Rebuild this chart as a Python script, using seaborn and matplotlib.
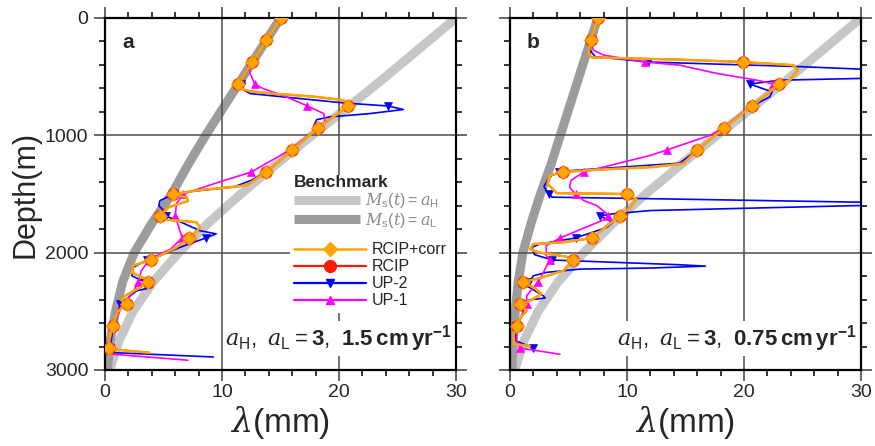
import numpy as np
import matplotlib
matplotlib.use("Agg")
import matplotlib.pyplot as plt
from matplotlib.lines import Line2D
from matplotlib.patches import Rectangle
from matplotlib.ticker import MultipleLocator
import seaborn as sns

sns.set_style("ticks")
plt.rcParams.update({
    "font.family": ["Liberation Sans", "DejaVu Sans"],
    "mathtext.fontset": "custom",
    "mathtext.rm": "Liberation Sans",
    "mathtext.sf": "Liberation Sans",
    "mathtext.it": "DejaVu Serif:italic",
    "mathtext.bf": "Liberation Sans:bold",
})

# ---------------------------------------------------------------- data
# depths (m) at which the model nodes carry markers
node_depth = [0, 187.5, 375, 562.5, 750, 937.5, 1125, 1312.5, 1500,
              1687.5, 1875, 2062.5, 2250, 2437.5, 2625, 2812.5]

# benchmark profiles, lambda (mm) against depth (m)
bench_depth = [0, 250, 500, 750, 1000, 1250, 1500, 1750, 2000, 2250, 2500, 2750, 3000]
bench_high = [30.0, 27.0, 24.0, 20.9, 17.7, 14.6, 11.6, 8.8, 6.3, 4.1, 2.4, 1.2, 0.4]
bench_low_a = [15.0, 13.4, 11.8, 10.2, 8.6, 7.1, 5.7, 4.0, 2.5, 1.5, 0.9, 0.45, 0.2]
bench_low_b = [7.5, 6.7, 5.9, 5.1, 4.3, 3.5, 2.6, 1.8, 1.1, 0.7, 0.45, 0.25, 0.15]

# panel a: 1.5 cm/yr
rcipc_a_depth = [0, 187.5, 375, 562.5, 600, 625, 645, 670, 695, 720, 750, 937.5, 1125,
                 1312.5, 1427, 1470, 1493, 1500, 1530, 1560, 1610, 1670, 1687.5, 1720,
                 1740, 1782, 1825, 1875, 1955, 2045, 2062.5, 2110, 2170, 2215, 2250,
                 2296, 2368, 2405, 2437.5, 2500, 2625, 2720, 2812.5, 2830, 2852]
rcipc_a_lam = [15.0, 13.8, 12.6, 11.4, 11.6, 12.4, 14.5, 17.8, 20.0, 20.9, 20.8, 18.2, 16.0,
               13.8, 12.1, 7.8, 6.4, 5.8, 7.0, 7.1, 5.5, 4.8, 4.7, 5.3,
               7.8, 8.1, 7.8, 7.2, 6.1, 4.3, 3.9, 2.4, 2.3, 3.3, 3.7,
               3.0, 1.7, 1.4, 1.9, 1.1, 0.65, 0.4, 0.3, 1.3, 3.8]
rcip_a_depth = list(rcipc_a_depth)
rcip_a_lam = list(rcipc_a_lam)

up2_a_depth = [0, 187.5, 375, 540, 556, 562.5, 600, 644, 724, 750, 780, 815, 843, 866, 906,
               937.5, 1125, 1312.5, 1380, 1440, 1480, 1500, 1556, 1600, 1669, 1687.5, 1740,
               1812, 1840, 1875, 1955, 2026, 2062.5, 2126, 2197, 2250, 2268, 2296, 2325,
               2437.5, 2553, 2625, 2812.5, 2852, 2889]
up2_a_lam = [15.0, 13.8, 12.6, 11.6, 12.0, 11.6, 11.6, 12.4, 20.4, 24.2, 25.5, 22.6, 19.2, 18.1, 17.9,
             18.2, 16.0, 13.8, 12.6, 11.0, 7.2, 5.9, 4.7, 4.6, 5.3, 5.2, 6.5,
             8.1, 9.5, 8.6, 6.4, 4.7, 3.6, 2.4, 2.3, 3.4, 3.85, 4.0, 2.7,
             1.3, 1.0, 0.7, 0.45, 0.71, 9.26]

up1_a_depth = [0, 187.5, 375, 420, 473, 562.5, 601, 672, 750, 815, 886, 937.5, 1125, 1312.5,
               1400, 1500, 1584, 1687.5, 1783, 1875, 1969, 2040, 2062.5, 2154, 2250, 2339,
               2437.5, 2581, 2625, 2752, 2812.5, 2866, 2917]
up1_a_lam = [15.0, 13.8, 12.6, 12.3, 12.4, 12.8, 13.5, 15.5, 17.3, 18.7, 18.8, 18.2, 15.8, 12.5,
             9.7, 6.7, 6.1, 6.0, 6.3, 6.6, 5.6, 4.1, 3.8, 3.1, 2.85, 2.4,
             1.55, 0.85, 0.7, 0.43, 0.37, 0.71, 7.1]

# panel b: 0.75 cm/yr
rcipc_b_depth = [0, 187.5, 302, 336, 355, 375, 402, 444, 530, 562.5, 750, 937.5, 1125, 1242,
                 1271, 1290, 1312.5, 1342, 1413, 1493, 1500, 1541, 1613, 1687.5, 1780, 1875,
                 1912, 1926, 1969, 1997, 2034, 2062.5, 2154, 2216, 2250, 2302, 2353, 2410,
                 2437.5, 2496, 2558, 2625, 2709, 2780, 2795]
rcipc_b_lam = [7.5, 6.9, 6.7, 7.0, 14.5, 19.9, 24.2, 24.6, 23.9, 23.0, 20.7, 18.3, 16.0, 14.8,
               12.0, 8.0, 4.5, 3.4, 3.2, 4.0, 10.0, 10.8, 10.3, 9.4, 8.2, 7.0,
               4.56, 2.0, 1.7, 2.4, 4.8, 5.4, 4.56, 2.56, 1.1, 2.1, 2.7, 1.7,
               0.85, 1.43, 0.85, 0.57, 0.28, 0.37, 1.7]
rcip_b_depth = list(rcipc_b_depth)
rcip_b_lam = list(rcipc_b_lam)

up2_b_depth = [0, 187.5, 273, 330, 375, 415, 436, 445, 505, 515, 530, 562.5, 630, 672, 750,
               937.5, 1125, 1237, 1305, 1312.5, 1350, 1436, 1500, 1527, 1544, 1570, 1580,
               1590, 1598, 1641, 1669, 1687.5, 1741, 1784, 1875, 1926, 1955, 2017, 2062.5,
               2103, 2115, 2131, 2140, 2168, 2197, 2250, 2291, 2367, 2387, 2402, 2437.5,
               2524, 2625, 2752, 2812.5]
up2_b_lam = [7.5, 6.9, 6.8, 7.3, 11.8, 24.9, 30.0, 34.0, 34.0, 30.0, 23.1, 20.5, 22.4, 22.2, 20.7,
             18.3, 16.0, 14.5, 4.56, 4.2, 3.4, 2.9, 3.3, 3.6, 14.5, 30.0, 34.0,
             34.0, 30.0, 12.0, 8.8, 7.7, 8.8, 8.3, 5.6, 2.56, 1.85, 2.1, 3.6,
             14.5, 16.7, 12.0, 6.0, 3.1, 2.0, 1.6, 1.57, 2.85, 3.0, 1.7, 0.9,
             1.14, 0.5, 0.51, 2.0]

up1_b_depth = [0, 187.5, 273, 316, 375, 402, 473, 530, 562.5, 581, 750, 937.5, 1000, 1057,
               1125, 1171, 1312.5, 1385, 1442, 1500, 1556, 1598, 1669, 1687.5, 1704, 1875,
               1940, 2026, 2062.5, 2225, 2250, 2367, 2437.5, 2625, 2752, 2812.5, 2866]
up1_b_lam = [7.5, 6.9, 7.1, 8.0, 11.5, 14.5, 17.7, 21.1, 22.5, 22.9, 20.6, 18.2, 17.1, 15.4,
             13.4, 12.0, 6.3, 5.2, 5.1, 5.6, 6.3, 7.4, 8.3, 8.4, 8.4, 4.27,
             3.1, 3.1, 3.4, 2.56, 2.4, 1.43, 1.43, 0.57, 0.57, 0.85, 4.27]

# ---------------------------------------------------------------- style
LIGHT = "#c6c6c6"
DARK = "#9c9c9c"
ORANGE = "#ffa500"
RED = "#ff1a00"
BLUE = "#0000ff"
MAGENTA = "#ff00ff"
GRID = "#4d4d4d"


def profile(ax, lam, dep, color, lw, marker, ms, mfc, mec, mew, z):
    idx = [i for i, d in enumerate(dep) if d in node_depth]
    sns.lineplot(x=lam, y=dep, ax=ax, sort=False, estimator=None, color=color,
                 lw=lw, marker=marker, markersize=ms, markevery=idx,
                 markerfacecolor=mfc, markeredgecolor=mec, markeredgewidth=mew,
                 zorder=z, legend=False)


def panel(ax, low, rc_d, rc_l, r_d, r_l, u2_d, u2_l, u1_d, u1_l, letter, note):
    sns.lineplot(x=bench_high, y=bench_depth, ax=ax, sort=False, estimator=None,
                 color=LIGHT, lw=6.5, solid_capstyle="butt", zorder=1)
    sns.lineplot(x=low, y=bench_depth, ax=ax, sort=False, estimator=None,
                 color=DARK, lw=6.5, solid_capstyle="butt", zorder=1)
    for v in (10, 20):
        ax.axvline(v, color=GRID, lw=1.1, zorder=1.5)
    for v in (1000, 2000):
        ax.axhline(v, color=GRID, lw=1.1, zorder=1.5)

    profile(ax, u2_l, u2_d, BLUE, 1.2, "v", 5.5, BLUE, BLUE, 0.5, 3)
    profile(ax, u1_l, u1_d, MAGENTA, 1.2, "^", 5.5, MAGENTA, MAGENTA, 0.5, 3.5)
    profile(ax, r_l, r_d, RED, 1.4, "o", 8.5, RED, RED, 0.6, 4)
    profile(ax, rc_l, rc_d, ORANGE, 1.8, "D", 7.0, ORANGE, "#ff7a00", 0.6, 5)

    ax.set_xlim(0, 30)
    ax.set_ylim(3000, 0)
    ax.xaxis.set_major_locator(MultipleLocator(10))
    ax.xaxis.set_minor_locator(MultipleLocator(2))
    ax.yaxis.set_major_locator(MultipleLocator(1000))
    ax.yaxis.set_minor_locator(MultipleLocator(200))
    ax.tick_params(which="both", direction="out", top=True, right=True,
                   bottom=True, left=True)
    ax.tick_params(which="major", length=8, width=1.2, color=GRID,
                   labelsize=14, pad=2)
    ax.tick_params(which="minor", length=4.5, width=1.1, color="black")
    for s in ax.spines.values():
        s.set_linewidth(1.6)
        s.set_color("black")
    ax.set_xlabel(r"$\lambda$(mm)", fontsize=24, labelpad=2)
    ax.text(0.066, 0.929, letter, transform=ax.transAxes, fontsize=15,
            fontweight="bold", ha="center", va="center")
    ax.text(0.988, 0.09, note, transform=ax.transAxes, fontsize=16,
            ha="right", va="center", zorder=6,
            bbox=dict(facecolor="white", edgecolor="none", pad=1.5))


fig = plt.figure(figsize=(8.75, 4.46), dpi=100)
axA = fig.add_axes([105 / 875, 1 - 370 / 446, 351 / 875, 352 / 446])
axB = fig.add_axes([510 / 875, 1 - 370 / 446, 351 / 875, 352 / 446])

panel(axA, bench_low_a, rcipc_a_depth, rcipc_a_lam, rcip_a_depth, rcip_a_lam,
      up2_a_depth, up2_a_lam, up1_a_depth, up1_a_lam, "a",
      r"$a_\mathrm{H},\ a_\mathrm{L}=\mathbf{3},\ \mathbf{1.5\,cm\,yr^{-1}}$")
panel(axB, bench_low_b, rcipc_b_depth, rcipc_b_lam, rcip_b_depth, rcip_b_lam,
      up2_b_depth, up2_b_lam, up1_b_depth, up1_b_lam, "b",
      r"$a_\mathrm{H},\ a_\mathrm{L}=\mathbf{3},\ \mathbf{0.75\,cm\,yr^{-1}}$")

axA.set_ylabel("Depth(m)", fontsize=22, labelpad=3)
axA.tick_params(axis="y", pad=4)
axB.tick_params(labelleft=False)
axB.set_ylabel("")

# white block behind the legend
axA.add_patch(Rectangle((0.527, 0.162), 0.47, 0.392, transform=axA.transAxes,
                        facecolor="white", edgecolor="none", zorder=8))

bench_handles = [
    Line2D([], [], color=LIGHT, lw=6.5, solid_capstyle="butt"),
    Line2D([], [], color=DARK, lw=6.5, solid_capstyle="butt"),
]
bench_labels = [r"$M_\mathrm{s}(t)=a_\mathrm{H}$", r"$M_\mathrm{s}(t)=a_\mathrm{L}$"]
method_handles = [
    Line2D([], [], color=ORANGE, lw=1.8, marker="D", ms=7, mfc=ORANGE, mec=ORANGE),
    Line2D([], [], color=RED, lw=1.6, marker="o", ms=8.5, mfc=RED, mec=RED),
    Line2D([], [], color=BLUE, lw=1.6, marker="v", ms=6, mfc=BLUE, mec=BLUE),
    Line2D([], [], color=MAGENTA, lw=1.6, marker="^", ms=6, mfc=MAGENTA, mec=MAGENTA),
]
method_labels = ["RCIP+corr", "RCIP", "UP-2", "UP-1"]

leg1 = axA.legend(bench_handles, bench_labels, title="Benchmark", loc="upper left",
                  bbox_to_anchor=(0.53, 0.562), frameon=False, fontsize=11.5,
                  handlelength=4.1, handletextpad=0.3, borderpad=0.2,
                  borderaxespad=0, labelspacing=0.05,
                  title_fontproperties={"weight": "bold", "size": 12.5},
                  alignment="left")
leg1.set_zorder(10)
for t in leg1.get_texts():
    t.set_color("#8a8a8a")
axA.add_artist(leg1)
leg2 = axA.legend(method_handles, method_labels, loc="upper left",
                  bbox_to_anchor=(0.53, 0.372), frameon=False, fontsize=11.5,
                  handlelength=4.5, handletextpad=0.35, borderpad=0.2,
                  borderaxespad=0, labelspacing=0.13)
leg2.set_zorder(10)

fig.savefig("out.png", dpi=100)
